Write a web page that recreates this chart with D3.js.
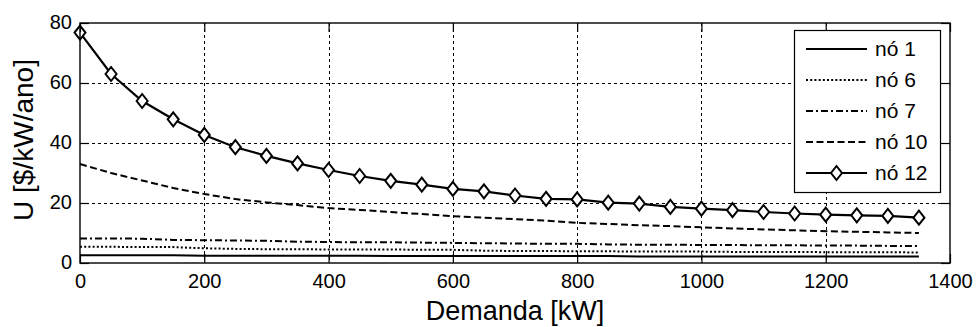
<!DOCTYPE html>
<html>
<head>
<meta charset="utf-8">
<script src="https://cdn.jsdelivr.net/npm/d3@7"></script>
<style>
  html, body { margin: 0; padding: 0; background: #fff; }
  svg { display: block; font-family: "Liberation Sans", Arial, sans-serif; }
</style>
</head>
<body>
<svg id="chart" width="977" height="327"></svg>
<script>
// Demand levels (kW) at which the unit cost was evaluated
const demanda = [0, 50, 100, 150, 200, 250, 300, 350, 400, 450, 500, 550, 600, 650,
                 700, 750, 800, 850, 900, 950, 1000, 1050, 1100, 1150, 1200, 1250, 1300, 1350];

// Unit cost U [$/kW/ano] per node
const no1  = [2.6, 2.6, 2.6, 2.6, 2.4, 2.4, 2.4, 2.4, 2.4, 2.4, 2.3, 2.3, 2.3, 2.3,
              2.3, 2.3, 2.3, 2.3, 2.2, 2.2, 2.2, 2.2, 2.2, 2.2, 2.2, 2.2, 2.2, 2.2];
const no6  = [5.4, 5.4, 5.3, 5.3, 4.9, 4.7, 4.6, 4.6, 4.5, 4.5, 4.5, 4.4, 4.4, 4.1,
              4.0, 4.0, 3.9, 3.9, 3.8, 3.8, 3.8, 3.7, 3.7, 3.7, 3.6, 3.6, 3.6, 3.5];
const no7  = [8.2, 8.2, 8.1, 7.7, 7.6, 7.5, 7.4, 7.1, 7.0, 6.9, 6.9, 6.8, 6.7, 6.6,
              6.5, 6.4, 6.4, 6.2, 6.1, 6.1, 6.0, 6.0, 5.9, 5.9, 5.8, 5.8, 5.7, 5.7];
const no10 = [33.0, 30.0, 27.5, 25.0, 23.0, 21.3, 20.2, 19.3, 18.3, 17.7, 17.0, 16.3, 15.6, 15.1,
              14.6, 14.1, 13.4, 13.0, 12.6, 12.3, 11.9, 11.5, 11.2, 10.9, 10.6, 10.4, 10.2, 10.0];
const no12 = [76.8, 63.0, 54.0, 47.9, 42.7, 38.6, 35.7, 33.2, 31.0, 29.0, 27.4, 26.1, 24.7, 23.9,
              22.5, 21.4, 21.2, 20.1, 19.8, 18.7, 18.1, 17.6, 17.0, 16.5, 16.1, 15.9, 15.7, 15.1];

const seriesNames = ["nó 1", "nó 6", "nó 7", "nó 10", "nó 12"];
const xTicks = [0, 200, 400, 600, 800, 1000, 1200, 1400];
const yTicks = [0, 20, 40, 60, 80];

const series = [
  { name: seriesNames[0], values: no1,  dash: null,      marker: false },
  { name: seriesNames[1], values: no6,  dash: "2,2.2",   marker: false },
  { name: seriesNames[2], values: no7,  dash: "7,3,2,3", marker: false },
  { name: seriesNames[3], values: no10, dash: "7,3.5",   marker: false },
  { name: seriesNames[4], values: no12, dash: null,      marker: true  }
];

const svg = d3.select("#chart");
const plotLeft = 80, plotRight = 950, plotTop = 23, plotBottom = 263;

const x = d3.scaleLinear().domain([0, 1400]).range([plotLeft, plotRight]);
const y = d3.scaleLinear().domain([0, 80]).range([plotBottom, plotTop]);
const fmt = d3.format("d");

// Dotted grid
const grid = svg.append("g").attr("stroke", "#000").attr("stroke-width", 1)
  .attr("stroke-dasharray", "3,3").attr("fill", "none");
grid.selectAll("line.vx").data(xTicks.filter(d => d > 0 && d < 1400)).join("line")
  .attr("x1", d => Math.round(x(d)) + 0.5).attr("x2", d => Math.round(x(d)) + 0.5)
  .attr("y1", plotTop).attr("y2", plotBottom);
grid.selectAll("line.hy").data(yTicks.filter(d => d > 0 && d < 80)).join("line")
  .attr("x1", plotLeft).attr("x2", plotRight)
  .attr("y1", d => Math.round(y(d)) + 0.5).attr("y2", d => Math.round(y(d)) + 0.5);

// Series lines
const line = d3.line().x((d, i) => x(demanda[i])).y(d => y(d));
series.forEach(s => {
  svg.append("path")
    .datum(s.values)
    .attr("d", line)
    .attr("fill", "none")
    .attr("stroke", "#000")
    .attr("stroke-width", s.marker ? 2.2 : 2)
    .attr("stroke-dasharray", s.dash);
});

// Diamond markers for node 12
const diamond = (cx, cy) => `M${cx},${cy - 7}L${cx + 5.5},${cy}L${cx},${cy + 7}L${cx - 5.5},${cy}Z`;
svg.append("g").selectAll("path").data(no12).join("path")
  .attr("d", (d, i) => diamond(x(demanda[i]), y(d)))
  .attr("fill", "#fff").attr("stroke", "#000").attr("stroke-width", 2);

// Axes with inward ticks on all four sides
const axisFont = g => g.selectAll("text").attr("font-size", 20).attr("fill", "#000")
  .attr("font-family", "'Liberation Sans', Arial, sans-serif");
const styleAxis = g => {
  g.select(".domain").remove();
  g.selectAll(".tick line").attr("stroke", "#000").attr("stroke-width", 1.2);
};

svg.append("g").attr("transform", `translate(0,${plotBottom})`)
  .call(d3.axisBottom(x).tickValues(xTicks).tickFormat(fmt).tickSize(-9).tickPadding(11))
  .call(styleAxis).call(axisFont);
svg.append("g").attr("transform", `translate(0,${plotTop})`)
  .call(d3.axisTop(x).tickValues(xTicks).tickSize(-9).tickFormat(""))
  .call(styleAxis);
svg.append("g").attr("transform", `translate(${plotLeft},0)`)
  .call(d3.axisLeft(y).tickValues(yTicks).tickFormat(fmt).tickSize(-9).tickPadding(8))
  .call(styleAxis).call(axisFont)
  .selectAll("text").attr("dy", "0.28em");
svg.append("g").attr("transform", `translate(${plotRight},0)`)
  .call(d3.axisRight(y).tickValues(yTicks).tickSize(-9).tickFormat(""))
  .call(styleAxis);

// Plot box
svg.append("rect").attr("x", plotLeft).attr("y", plotTop)
  .attr("width", plotRight - plotLeft).attr("height", plotBottom - plotTop)
  .attr("fill", "none").attr("stroke", "#000").attr("stroke-width", 1.4);

// Axis titles
svg.append("text").attr("x", 515).attr("y", 320).attr("text-anchor", "middle")
  .attr("font-size", 27).attr("fill", "#000").text("Demanda [kW]");
svg.append("text").attr("transform", "translate(33,140) rotate(-90)")
  .attr("text-anchor", "middle").attr("font-size", 28).attr("fill", "#000")
  .text("U [$/kW/ano]");

// Legend
const lg = svg.append("g");
lg.append("rect").attr("x", 794.5).attr("y", 30.5).attr("width", 146).attr("height", 162)
  .attr("fill", "#fff").attr("stroke", "#000").attr("stroke-width", 1.2);
const legendY = d3.scalePoint().domain(seriesNames).range([49, 173]);
series.forEach(s => {
  const ly = legendY(s.name);
  lg.append("line").attr("x1", 806).attr("x2", 867).attr("y1", ly).attr("y2", ly)
    .attr("stroke", "#000").attr("stroke-width", s.marker ? 2.2 : 2)
    .attr("stroke-dasharray", s.dash);
  if (s.marker) {
    lg.append("path").attr("d", diamond(836.5, ly))
      .attr("fill", "#fff").attr("stroke", "#000").attr("stroke-width", 2);
  }
  lg.append("text").attr("x", 875).attr("y", ly).attr("dy", "0.35em")
    .attr("font-size", 21).attr("fill", "#000").text(s.name);
});
</script>
</body>
</html>
